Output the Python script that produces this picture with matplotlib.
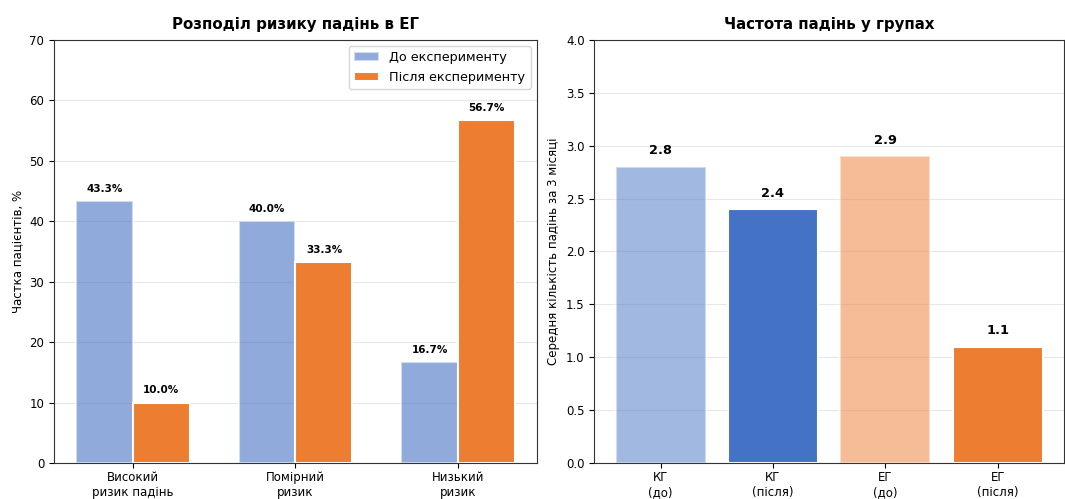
import matplotlib
matplotlib.use("Agg")
import matplotlib.pyplot as plt
import numpy as np

# Risk distribution in the experimental group (%)
risk_categories = ["Високий\nризик падінь", "Помірний\nризик", "Низький\nризик"]
risk_before = [43.3, 40.0, 16.7]
risk_after = [10.0, 33.3, 56.7]

# Mean number of falls over 3 months
group_labels = ["КГ\n(до)", "КГ\n(після)", "ЕГ\n(до)", "ЕГ\n(після)"]
falls_mean = [2.8, 2.4, 2.9, 1.1]

blue = "#4472c4"
orange = "#ed7d31"

plt.rcParams["font.size"] = 8.5
plt.rcParams["axes.edgecolor"] = "#333333"

fig = plt.figure(figsize=(10.65, 4.99), dpi=100)
ax1 = fig.add_axes([0.0507, 0.072, 0.4535, 0.848])
ax2 = fig.add_axes([0.558, 0.072, 0.441, 0.848])

# Left panel: grouped bars
x = np.arange(len(risk_categories))
w = 0.35
b1 = ax1.bar(x - w / 2, risk_before, w, color=blue, alpha=0.6,
             edgecolor="white", linewidth=1.5, label="До експерименту")
b2 = ax1.bar(x + w / 2, risk_after, w, color=orange, alpha=1.0,
             edgecolor="white", linewidth=1.5, label="Після експерименту")
for bars in (b1, b2):
    for bar in bars:
        h = bar.get_height()
        ax1.text(bar.get_x() + bar.get_width() / 2, h + 1.2, f"{h:.1f}%",
                 ha="center", va="bottom", fontsize=7.5, fontweight="bold")
ax1.set_xticks(x)
ax1.set_xticklabels(risk_categories, fontsize=8.5)
ax1.tick_params(axis="x", pad=2)
ax1.tick_params(axis="y", labelsize=8.5)
ax1.set_ylim(0, 70)
ax1.set_ylabel("Частка пацієнтів, %", fontsize=8.5)
ax1.set_title("Розподіл ризику падінь в ЕГ", fontsize=10.8, fontweight="bold", pad=8)
ax1.legend(loc="upper right", fontsize=9.2)
ax1.yaxis.grid(True, alpha=0.3)
ax1.set_axisbelow(True)

# Right panel: mean falls per group
colors = [(blue, 0.5), (blue, 1.0), (orange, 0.5), (orange, 1.0)]
xs = np.arange(len(group_labels))
for xi, val, (c, a) in zip(xs, falls_mean, colors):
    ax2.bar(xi, val, 0.8, color=c, alpha=a, edgecolor="white", linewidth=1.5)
    ax2.text(xi, val + 0.09, f"{val:.1f}", ha="center", va="bottom",
             fontsize=9.3, fontweight="bold")
ax2.set_xticks(xs)
ax2.set_xticklabels(group_labels, fontsize=8.5)
ax2.tick_params(axis="x", pad=2)
ax2.tick_params(axis="y", labelsize=8.5)
ax2.set_ylim(0, 4.0)
ax2.set_ylabel("Середня кількість падінь за 3 місяці", fontsize=8.5)
ax2.set_title("Частота падінь у групах", fontsize=10.8, fontweight="bold", pad=8)
ax2.yaxis.grid(True, alpha=0.3)
ax2.set_axisbelow(True)

fig.savefig("out.png", dpi=100)
